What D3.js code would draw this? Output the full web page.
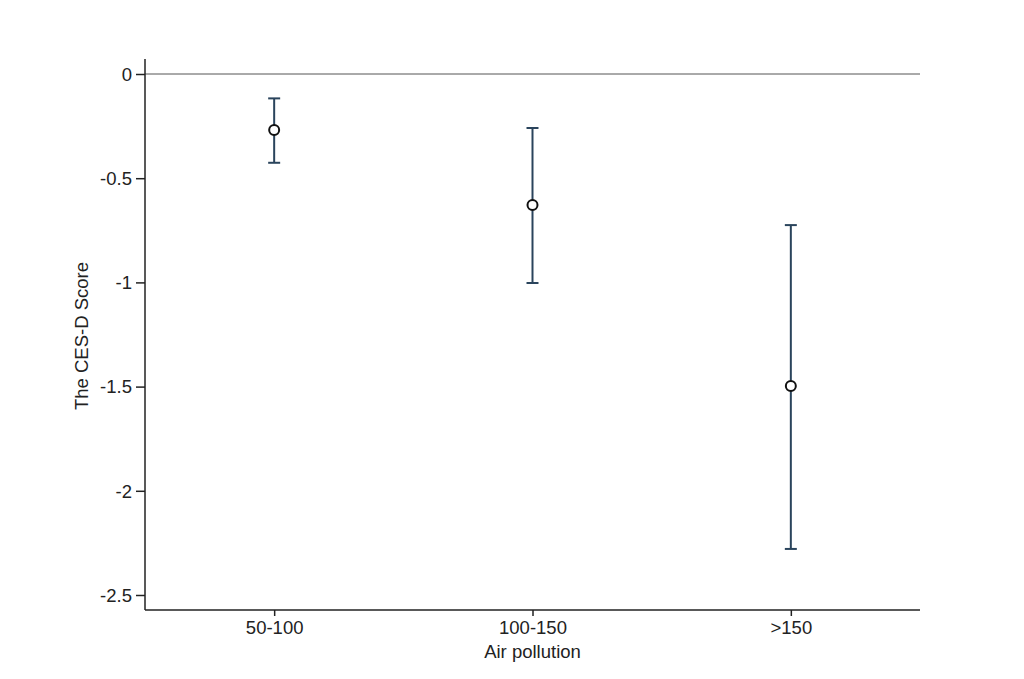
<!DOCTYPE html>
<html><head><meta charset="utf-8">
<script src="https://cdn.jsdelivr.net/npm/d3@7"></script>
<style>body{margin:0;background:#fff}svg{display:block}</style>
</head><body>
<svg id="c" width="1024" height="679"></svg>
<script>
const categories = ["50-100", "100-150", ">150"];
const estimates = [-0.269, -0.629, -1.497];
const ciUpper = [-0.117, -0.259, -0.725];
const ciLower = [-0.426, -1.003, -2.279];
const yTicks = [0, -0.5, -1, -1.5, -2, -2.5];
const yTickLabels = ["0", "-0.5", "-1", "-1.5", "-2", "-2.5"];

const svg = d3.select("#c");
const font = "Liberation Sans, Arial, sans-serif";
const fs = "18.5px";
const L = 145, R = 920, T = 59, B = 610;
const x = d3.scalePoint().domain(categories).range([L, R]).padding(0.5);
const y = d3.scaleLinear().domain([-2.572, 0.072]).range([B, T]);

// zero reference line
svg.append("line").attr("x1", L).attr("x2", R).attr("y1", y(0)).attr("y2", y(0))
  .attr("stroke", "#555").attr("stroke-width", 1);

const yAxis = svg.append("g").attr("transform", `translate(${L},0)`)
  .call(d3.axisLeft(y).tickValues(yTicks).tickFormat((d, i) => yTickLabels[i]).tickSize(9).tickPadding(4));
const xAxis = svg.append("g").attr("transform", `translate(0,${B})`)
  .call(d3.axisBottom(x).tickSize(6).tickPadding(5));
[yAxis, xAxis].forEach(g => {
  g.attr("font-size", null).attr("font-family", null);
  g.select(".domain").attr("stroke", "#222").attr("stroke-width", 1.5);
  g.selectAll(".tick line").attr("stroke", "#222").attr("stroke-width", 1.5);
  g.selectAll(".tick text").attr("fill", "#222").style("font-family", font).style("font-size", fs);
});
yAxis.selectAll(".tick text").attr("dy", "0.34em");
xAxis.selectAll(".tick text").attr("dy", "0.71em");
xAxis.select(".domain").attr("d", `M${L},0H${R}`);
yAxis.select(".domain").attr("d", `M0,${T}V${B}`);

const col = "#2a445c";
const g = svg.append("g");
categories.forEach((c, i) => {
  const cx = x(c);
  g.append("line").attr("x1", cx).attr("x2", cx).attr("y1", y(ciUpper[i])).attr("y2", y(ciLower[i]))
    .attr("stroke", col).attr("stroke-width", 2);
  [ciUpper[i], ciLower[i]].forEach(v => {
    g.append("line").attr("x1", cx - 6).attr("x2", cx + 6).attr("y1", y(v)).attr("y2", y(v))
      .attr("stroke", col).attr("stroke-width", 2);
  });
  g.append("circle").attr("cx", cx).attr("cy", y(estimates[i])).attr("r", 5)
    .attr("fill", "#fff").attr("stroke", "#111").attr("stroke-width", 2);
});

svg.append("text").attr("x", (L + R) / 2).attr("y", 658).attr("text-anchor", "middle")
  .style("font-family", font).style("font-size", fs).attr("fill", "#222").text("Air pollution");
svg.append("text").attr("transform", `translate(88,336) rotate(-90)`).attr("text-anchor", "middle")
  .style("font-family", font).style("font-size", fs).attr("fill", "#222").text("The CES-D Score");
</script>
</body></html>
